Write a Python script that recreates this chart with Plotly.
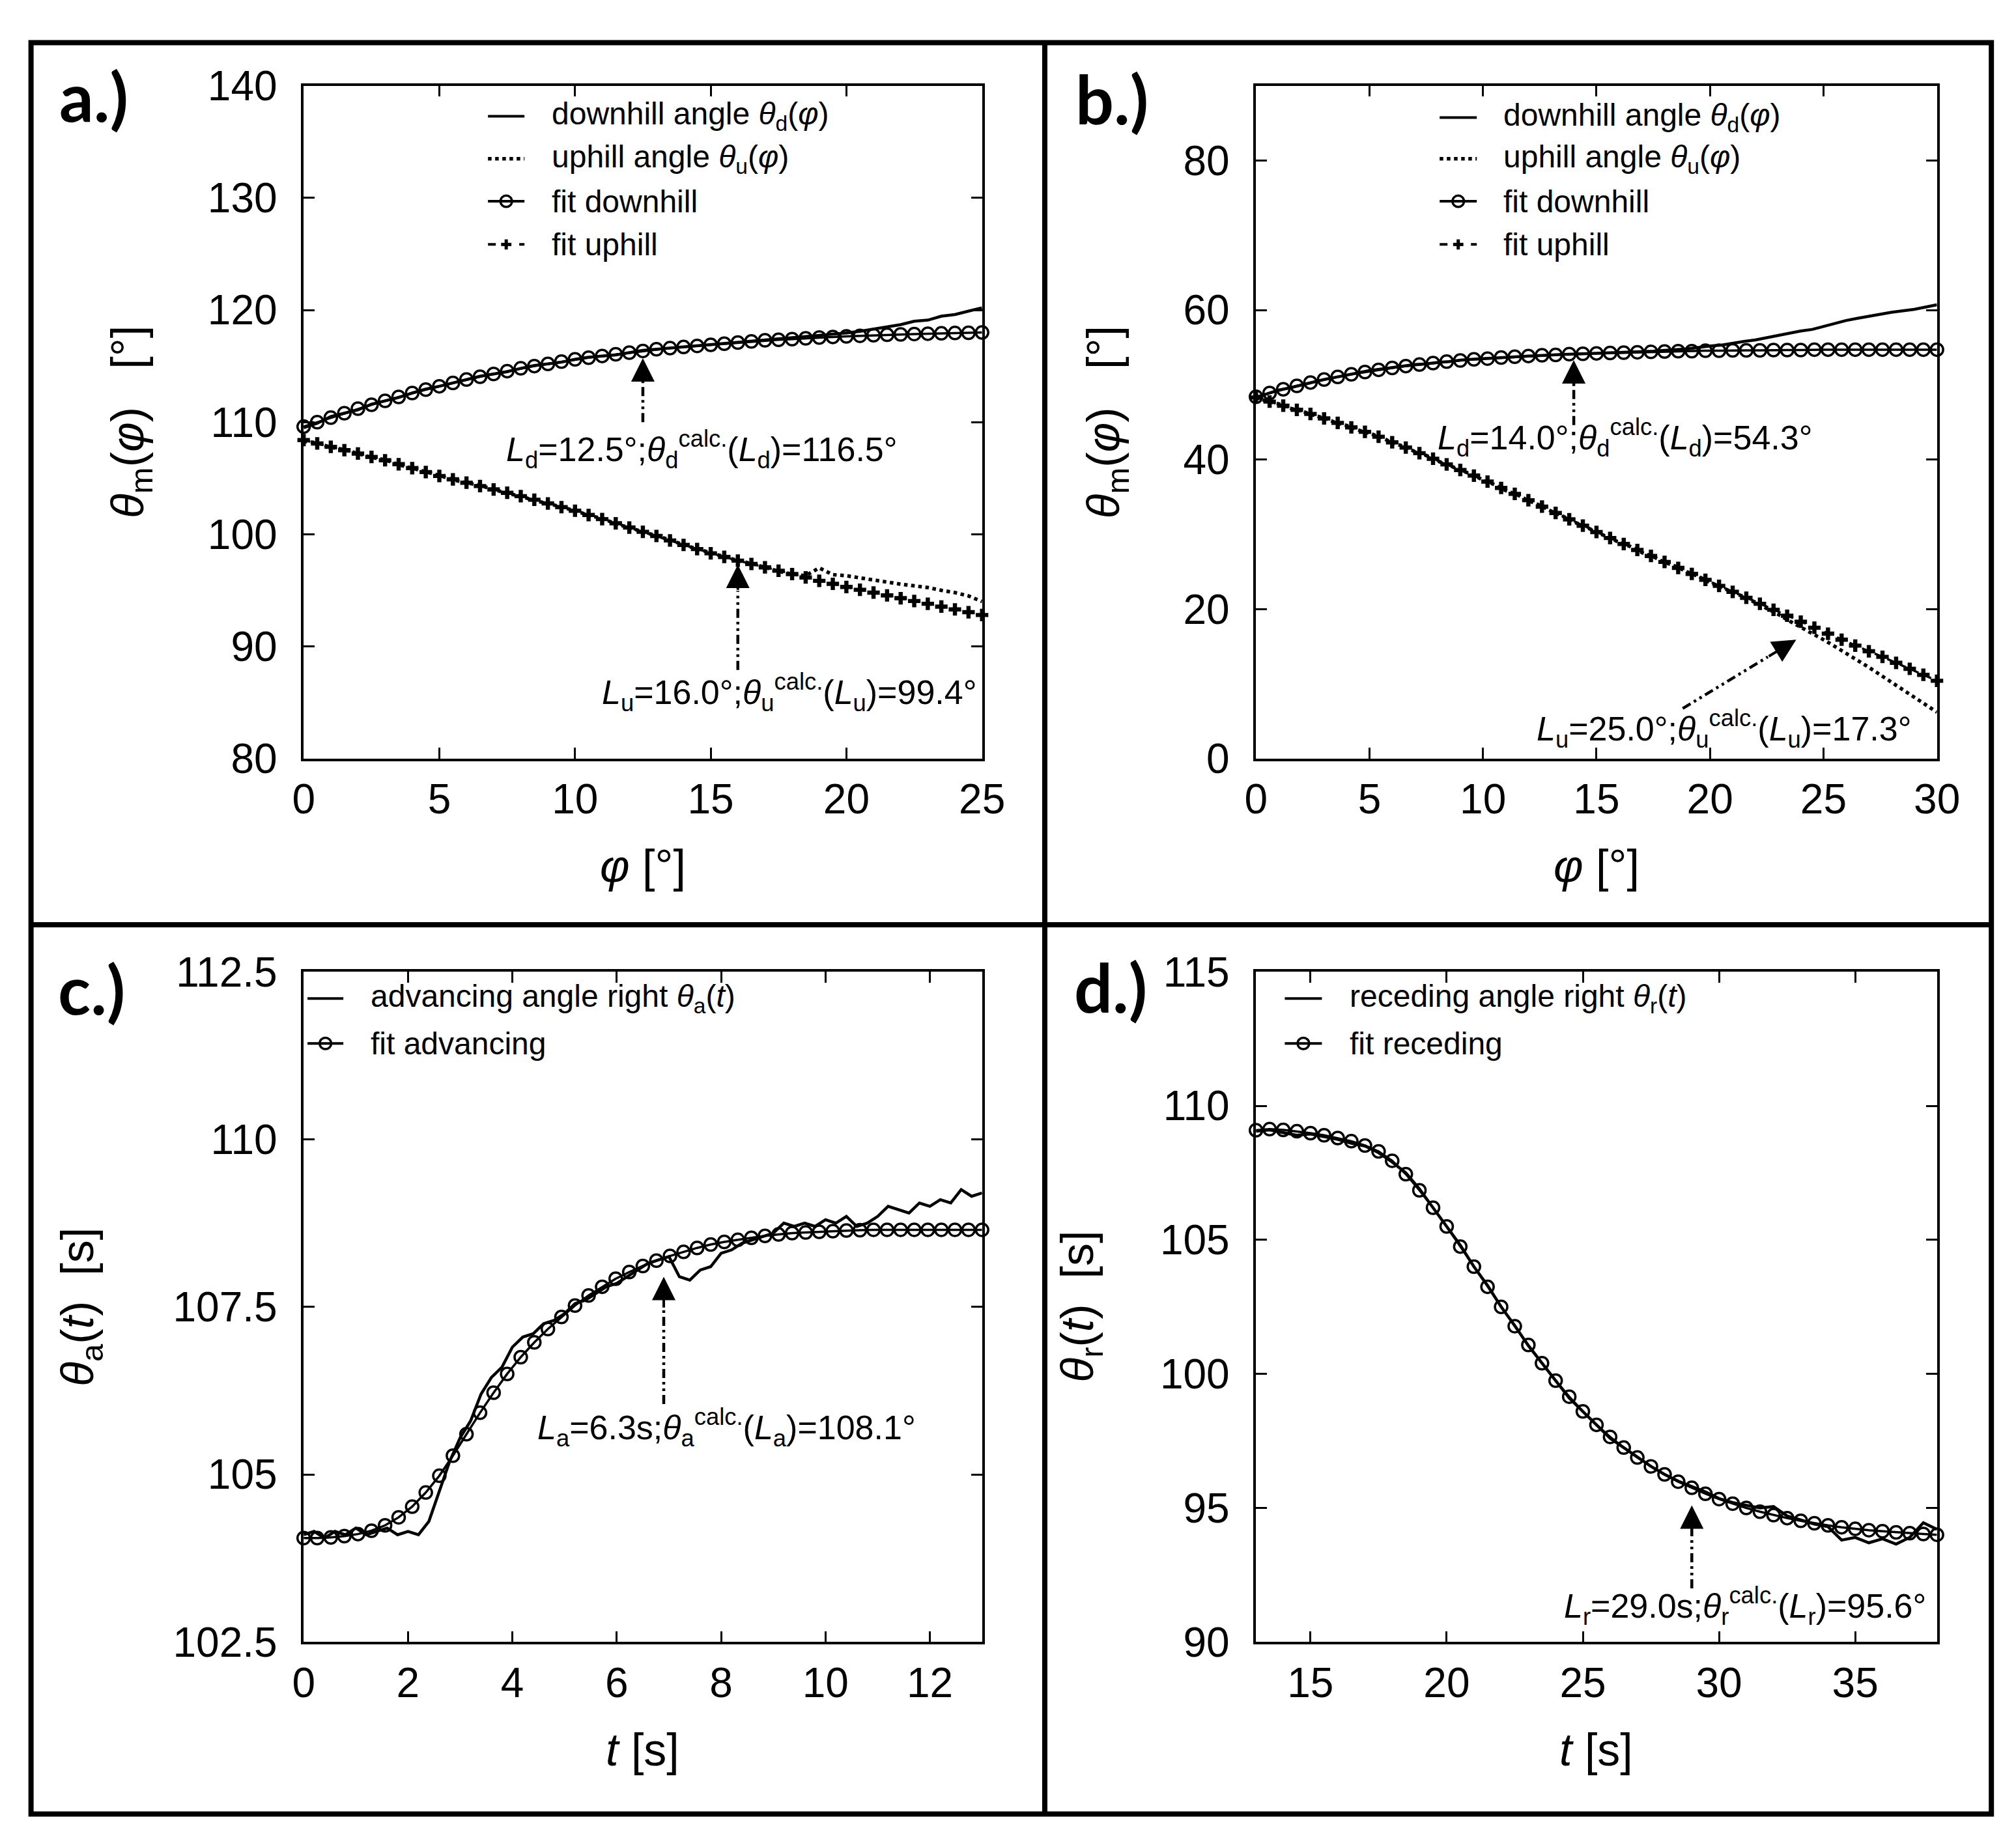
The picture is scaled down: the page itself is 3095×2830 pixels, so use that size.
import plotly.graph_objects as go

W, H = 3095, 2830
FONT = "Liberation Sans, Arial, sans-serif"

# ---------------- panel a ----------------
phi_a = [0.0, 0.5, 1.0, 1.5, 2.0, 2.5, 3.0, 3.5, 4.0, 4.5, 5.0, 5.5, 6.0, 6.5, 7.0, 7.5,
         8.0, 8.5, 9.0, 9.5, 10.0, 10.5, 11.0, 11.5, 12.0, 12.5, 13.0, 13.5, 14.0, 14.5,
         15.0, 15.5, 16.0, 16.5, 17.0, 17.5, 18.0, 18.5, 19.0, 19.5, 20.0, 20.5, 21.0,
         21.5, 22.0, 22.5, 23.0, 23.5, 24.0, 24.5, 25.0]
down_meas_a = [109.5, 109.9, 110.5, 110.8, 111.1, 111.6, 111.9, 112.2, 112.6, 112.95, 113.2,
               113.5, 113.75, 114.1, 114.3, 114.5, 114.8, 115.05, 115.2, 115.35, 115.6, 115.8,
               115.9, 116.0, 116.2, 116.4, 116.5, 116.6, 116.75, 116.8, 116.95, 117.0, 117.1,
               117.25, 117.3, 117.4, 117.5, 117.6, 117.75, 117.8, 117.95, 118.1, 118.3, 118.55,
               118.7, 119.0, 119.1, 119.45, 119.6, 119.9, 120.2]
up_meas_a = [108.3, 108.15, 107.75, 107.55, 107.2, 106.85, 106.65, 106.2, 105.9, 105.6, 105.25,
             104.85, 104.6, 104.35, 104.0, 103.65, 103.4, 103.0, 102.75, 102.45, 102.1, 101.7,
             101.4, 100.95, 100.6, 100.25, 99.85, 99.5, 99.05, 98.7, 98.3, 98.0, 97.65, 97.4,
             97.05, 96.7, 96.45, 96.3, 97.0, 96.4, 96.3, 96.1, 95.9, 95.7, 95.55, 95.4, 95.25,
             95.0, 94.8, 94.5, 94.0]
down_fit_a = [109.6, 110.0, 110.4, 110.8, 111.2, 111.55, 111.9, 112.25, 112.6, 112.9, 113.2,
              113.5, 113.8, 114.05, 114.3, 114.55, 114.8, 115.0, 115.2, 115.4, 115.6, 115.75,
              115.9, 116.05, 116.2, 116.35, 116.5, 116.6, 116.7, 116.8, 116.9, 117.0, 117.1,
              117.2, 117.3, 117.35, 117.4, 117.48, 117.55, 117.6, 117.65, 117.7, 117.75, 117.8,
              117.83, 117.86, 117.89, 117.92, 117.95, 117.97, 118.0]
up_fit_a = [108.4, 108.1, 107.8, 107.5, 107.2, 106.9, 106.6, 106.25, 105.9, 105.55, 105.2,
            104.9, 104.6, 104.3, 104.0, 103.7, 103.4, 103.08, 102.75, 102.42, 102.1, 101.72,
            101.35, 100.98, 100.6, 100.22, 99.85, 99.45, 99.05, 98.68, 98.3, 97.98, 97.65,
            97.35, 97.05, 96.75, 96.45, 96.15, 95.85, 95.58, 95.3, 95.05, 94.8, 94.55, 94.3,
            94.05, 93.8, 93.55, 93.3, 93.05, 92.8]

# ---------------- panel b ----------------
phi_meas_b = [0.0, 0.5, 1.0, 1.5, 2.0, 2.5, 3.0, 3.5, 4.0, 4.5, 5.0, 5.5, 6.0, 6.5, 7.0, 7.5,
              8.0, 8.5, 9.0, 9.5, 10.0, 10.5, 11.0, 11.5, 12.0, 12.5, 13.0, 13.5, 14.0, 14.5,
              15.0, 15.5, 16.0, 16.5, 17.0, 17.5, 18.0, 18.5, 19.0, 19.5, 20.0, 20.5, 21.0,
              21.5, 22.0, 22.5, 23.0, 23.5, 24.0, 24.5, 25.0, 25.5, 26.0, 26.5, 27.0, 27.5,
              28.0, 28.5, 29.0, 29.5, 30.0]
down_meas_b = [48.3, 48.8, 49.3, 49.6, 50.0, 50.4, 50.7, 51.0, 51.3, 51.6, 51.9, 52.1, 52.3,
               52.5, 52.7, 52.8, 53.0, 53.1, 53.3, 53.4, 53.5, 53.6, 53.7, 53.8, 53.85, 53.9,
               54.0, 54.05, 54.1, 54.15, 54.2, 54.3, 54.3, 54.4, 54.4, 54.5, 54.6, 54.7, 54.8,
               55.0, 55.2, 55.3, 55.6, 55.8, 56.0, 56.3, 56.6, 56.9, 57.2, 57.4, 57.8, 58.3,
               58.6, 58.9, 59.2, 59.4, 59.7, 59.9, 60.1, 60.4, 60.7]
up_meas_b = [48.3, 47.8, 47.45, 46.85, 46.5, 45.95, 45.55, 44.95, 44.55, 43.95, 43.5, 43.0,
             42.25, 41.75, 41.05, 40.55, 39.8, 39.25, 38.55, 38.05, 37.25, 36.65, 35.85, 35.3,
             34.5, 33.9, 33.1, 32.45, 31.65, 31.05, 30.25, 29.65, 28.9, 28.35, 27.55, 27.0,
             26.25, 25.7, 24.95, 24.35, 23.55, 22.95, 22.2, 21.65, 20.85, 20.1, 19.3, 18.4,
             17.6, 16.7, 15.9, 15.0, 14.1, 13.2, 12.2, 11.2, 10.2, 9.2, 8.2, 7.2, 6.2]
phi_fit_b = [0.0, 0.6, 1.2, 1.8, 2.4, 3.0, 3.6, 4.2, 4.8, 5.4, 6.0, 6.6, 7.2, 7.8, 8.4, 9.0,
             9.6, 10.2, 10.8, 11.4, 12.0, 12.6, 13.2, 13.8, 14.4, 15.0, 15.6, 16.2, 16.8, 17.4,
             18.0, 18.6, 19.2, 19.8, 20.4, 21.0, 21.6, 22.2, 22.8, 23.4, 24.0, 24.6, 25.2,
             25.8, 26.4, 27.0, 27.6, 28.2, 28.8, 29.4, 30.0]
down_fit_b = [48.4, 48.9, 49.4, 49.85, 50.3, 50.7, 51.05, 51.4, 51.7, 52.0, 52.25, 52.5, 52.7,
              52.9, 53.1, 53.25, 53.4, 53.5, 53.65, 53.75, 53.85, 53.95, 54.0, 54.1, 54.15,
              54.2, 54.25, 54.3, 54.35, 54.4, 54.45, 54.5, 54.5, 54.55, 54.55, 54.6, 54.6,
              54.6, 54.65, 54.65, 54.65, 54.7, 54.7, 54.7, 54.7, 54.7, 54.7, 54.7, 54.7, 54.7,
              54.7]
up_fit_b = [48.3, 47.75, 47.2, 46.65, 46.1, 45.5, 44.9, 44.3, 43.7, 43.05, 42.3, 41.6, 40.85,
            40.1, 39.35, 38.6, 37.85, 37.05, 36.2, 35.4, 34.55, 33.7, 32.85, 32.0, 31.15, 30.3,
            29.5, 28.7, 27.9, 27.1, 26.3, 25.5, 24.7, 23.9, 23.1, 22.3, 21.5, 20.7, 19.9, 19.1,
            18.3, 17.5, 16.7, 15.9, 15.1, 14.35, 13.6, 12.8, 12.0, 11.2, 10.4]

# ---------------- panel c ----------------
t_meas_c = [0.0, 0.2, 0.4, 0.6, 0.8, 1.0, 1.2, 1.4, 1.6, 1.8, 2.0, 2.2, 2.4, 2.6, 2.8, 3.0,
            3.2, 3.4, 3.6, 3.8, 4.0, 4.2, 4.4, 4.6, 4.8, 5.0, 5.2, 5.4, 5.6, 5.8, 6.0, 6.2,
            6.4, 6.6, 6.8, 7.0, 7.2, 7.4, 7.6, 7.8, 8.0, 8.2, 8.4, 8.6, 8.8, 9.0, 9.2, 9.4,
            9.6, 9.8, 10.0, 10.2, 10.4, 10.6, 10.8, 11.0, 11.2, 11.4, 11.6, 11.8, 12.0, 12.2,
            12.4, 12.6, 12.8, 13.0]
adv_meas_c = [104.1, 104.15, 104.05, 104.15, 104.1, 104.2, 104.1, 104.15, 104.2, 104.1, 104.15,
              104.1, 104.3, 104.75, 105.2, 105.55, 105.8, 106.2, 106.45, 106.6, 106.9, 107.05,
              107.1, 107.25, 107.3, 107.4, 107.55, 107.6, 107.7, 107.8, 107.85, 107.95, 108.05,
              108.15, 108.2, 108.25, 107.95, 107.9, 108.05, 108.1, 108.3, 108.35, 108.45, 108.5,
              108.55, 108.6, 108.75, 108.7, 108.75, 108.7, 108.8, 108.75, 108.85, 108.7, 108.75,
              108.85, 109.0, 108.95, 108.9, 109.05, 109.0, 109.1, 109.05, 109.25, 109.15, 109.2]
t_fit_c = [0.0, 0.26, 0.52, 0.78, 1.04, 1.3, 1.56, 1.82, 2.08, 2.34, 2.6, 2.86, 3.12, 3.38,
           3.64, 3.9, 4.16, 4.42, 4.68, 4.94, 5.2, 5.46, 5.72, 5.98, 6.24, 6.5, 6.76, 7.02,
           7.28, 7.54, 7.8, 8.06, 8.32, 8.58, 8.84, 9.1, 9.36, 9.62, 9.88, 10.14, 10.4, 10.66,
           10.92, 11.18, 11.44, 11.7, 11.96, 12.22, 12.48, 12.74, 13.0]
adv_fit_c = [104.05, 104.05, 104.06, 104.08, 104.11, 104.16, 104.24, 104.36, 104.52, 104.73,
             104.98, 105.28, 105.6, 105.92, 106.22, 106.5, 106.75, 106.97, 107.17, 107.35,
             107.52, 107.67, 107.8, 107.92, 108.02, 108.11, 108.19, 108.26, 108.32, 108.38,
             108.43, 108.47, 108.5, 108.53, 108.56, 108.58, 108.6, 108.61, 108.62, 108.63,
             108.64, 108.645, 108.65, 108.65, 108.65, 108.65, 108.65, 108.65, 108.65, 108.65,
             108.65]

# ---------------- panel d ----------------
t_d = [13.0, 13.5, 14.0, 14.5, 15.0, 15.5, 16.0, 16.5, 17.0, 17.5, 18.0, 18.5, 19.0, 19.5,
       20.0, 20.5, 21.0, 21.5, 22.0, 22.5, 23.0, 23.5, 24.0, 24.5, 25.0, 25.5, 26.0, 26.5,
       27.0, 27.5, 28.0, 28.5, 29.0, 29.5, 30.0, 30.5, 31.0, 31.5, 32.0, 32.5, 33.0, 33.5,
       34.0, 34.5, 35.0, 35.5, 36.0, 36.5, 37.0, 37.5, 38.0]
rec_meas_d = [109.05, 109.1, 109.0, 108.9, 108.95, 108.85, 108.75, 108.6, 108.5, 108.25,
              107.9, 107.5, 106.9, 106.2, 105.5, 104.8, 104.0, 103.3, 102.5, 101.8, 101.05,
              100.4, 99.75, 99.1, 98.6, 98.1, 97.6, 97.25, 96.9, 96.55, 96.25, 96.0, 95.8,
              95.6, 95.35, 95.2, 95.1, 95.0, 95.05, 94.7, 94.55, 94.4, 94.3, 93.8, 93.9, 93.7,
              93.85, 93.65, 93.9, 94.45, 94.2]
rec_fit_d = [109.09, 109.13, 109.1, 109.05, 108.98, 108.9, 108.8, 108.68, 108.52, 108.3,
             107.95, 107.45, 106.85, 106.2, 105.5, 104.75, 104.0, 103.25, 102.5, 101.78,
             101.08, 100.4, 99.75, 99.15, 98.6, 98.1, 97.65, 97.25, 96.88, 96.55, 96.25, 95.98,
             95.75, 95.53, 95.33, 95.16, 95.0, 94.86, 94.73, 94.62, 94.52, 94.43, 94.35, 94.28,
             94.22, 94.17, 94.13, 94.09, 94.06, 94.03, 94.0]

# arrow annotations: (panel, tip x, tip y, tail x, tail y, text x, text y, text)
arrows = [
    ("a", 12.5, 115.7, 12.5, 110.0, 14.67, 107.6,
     "<i>L</i><sub>d</sub>=12.5°;<i>θ</i><sub>d</sub><sup>calc.</sup>(<i>L</i><sub>d</sub>)=116.5°"),
    ("a", 16.0, 97.3, 16.0, 87.9, 17.9, 85.9,
     "<i>L</i><sub>u</sub>=16.0°;<i>θ</i><sub>u</sub><sup>calc.</sup>(<i>L</i><sub>u</sub>)=99.4°"),
    ("b", 14.0, 53.3, 14.0, 44.6, 16.25, 42.9,
     "<i>L</i><sub>d</sub>=14.0°;<i>θ</i><sub>d</sub><sup>calc.</sup>(<i>L</i><sub>d</sub>)=54.3°"),
    ("b", 23.8, 15.9, 18.8, 6.7, 20.6, 4.0,
     "<i>L</i><sub>u</sub>=25.0°;<i>θ</i><sub>u</sub><sup>calc.</sup>(<i>L</i><sub>u</sub>)=17.3°"),
    ("c", 6.9, 107.95, 6.9, 106.05, 8.1, 105.7,
     "<i>L</i><sub>a</sub>=6.3s;<i>θ</i><sub>a</sub><sup>calc.</sup>(<i>L</i><sub>a</sub>)=108.1°"),
    ("d", 29.0, 95.1, 29.0, 92.0, 30.95, 91.35,
     "<i>L</i><sub>r</sub>=29.0s;<i>θ</i><sub>r</sub><sup>calc.</sup>(<i>L</i><sub>r</sub>)=95.6°"),
]

# legend entries per panel: (label, style)
th_d = "downhill angle <i>θ</i><sub>d</sub>(<i>φ</i>)"
th_u = "uphill angle <i>θ</i><sub>u</sub>(<i>φ</i>)"
legend_rows = {
    "a": [(th_d, "solid"), (th_u, "dot"), ("fit downhill", "circle"), ("fit uphill", "cross")],
    "b": [(th_d, "solid"), (th_u, "dot"), ("fit downhill", "circle"), ("fit uphill", "cross")],
    "c": [("advancing angle right <i>θ</i><sub>a</sub>(<i>t</i>)", "solid"),
          ("fit advancing", "circle")],
    "d": [("receding angle right <i>θ</i><sub>r</sub>(<i>t</i>)", "solid"),
          ("fit receding", "circle")],
}

# pixel boxes of the four plot areas (left, right, top, bottom)
boxes = {"a": (448, 1508, 90, 1150), "b": (1936, 3000, 90, 1150),
         "c": (448, 1508, 1486, 2542), "d": (1936, 3000, 1486, 2542)}
axis_ids = {"a": ("x", "y"), "b": ("x2", "y2"), "c": ("x3", "y3"), "d": ("x4", "y4")}

fig = go.Figure()


def measured(panel, x, y, dash="solid"):
    xa, ya = axis_ids[panel]
    fig.add_trace(go.Scatter(
        x=x, y=y, mode="lines", xaxis=xa, yaxis=ya, showlegend=False,
        line=dict(color="black", width=5.5 if dash == "dot" else 4.5, dash=dash)))


def fit(panel, x, y, symbol="circle-open", dash="solid"):
    xa, ya = axis_ids[panel]
    if symbol == "circle-open":
        marker = dict(symbol=symbol, size=19, color="black", line=dict(width=3.5, color="black"))
    else:
        marker = dict(symbol=symbol, size=16, color="black", line=dict(width=0))
    fig.add_trace(go.Scatter(
        x=x, y=y, mode="lines+markers", xaxis=xa, yaxis=ya, showlegend=False,
        line=dict(color="black", width=3.5, dash=dash), marker=marker, cliponaxis=False))


measured("a", phi_a, down_meas_a)
measured("a", phi_a, up_meas_a, dash="dot")
fit("a", phi_a, down_fit_a)
fit("a", phi_a, up_fit_a, symbol="cross", dash="dash")

measured("b", phi_meas_b, down_meas_b)
measured("b", phi_meas_b, up_meas_b, dash="dot")
fit("b", phi_fit_b, down_fit_b)
fit("b", phi_fit_b, up_fit_b, symbol="cross", dash="dash")

measured("c", t_meas_c, adv_meas_c)
fit("c", t_fit_c, adv_fit_c)

measured("d", t_d, rec_meas_d)
fit("d", t_d, rec_fit_d)

# axes
ranges = {"a": ([0, 25], 5, [80, 140], 10), "b": ([0, 30], 5, [0, 90], 20),
          "c": ([0, 13], 2, [102.5, 112.5], 2.5), "d": ([13, 38], 5, [90, 115], 5)}
common = dict(showgrid=False, zeroline=False, showline=True, linecolor="black", linewidth=3.5,
              mirror="ticks", ticks="inside", ticklen=17, tickwidth=3, tickcolor="black",
              tickfont=dict(family=FONT, size=64, color="black"), tick0=0)
layout_axes = {}
for p, (l, r, t, b) in boxes.items():
    xa, ya = axis_ids[p]
    xr, dx, yr, dy = ranges[p]
    xkey = "xaxis" if xa == "x" else "xaxis" + xa[1:]
    ykey = "yaxis" if ya == "y" else "yaxis" + ya[1:]
    layout_axes[xkey] = dict(common, domain=[l / W, r / W], range=xr, dtick=dx,
                             anchor=ya, ticklabelstandoff=4)
    layout_axes[ykey] = dict(common, domain=[1 - b / H, 1 - t / H], range=yr, dtick=dy,
                             anchor=xa, ticklabelstandoff=24)

annotations = []
shapes = []
title_font = dict(family=FONT, size=70, color="black")


def px(x):
    return x / W


def py(y):
    return 1 - y / H


# hand-drawn keys (sample line, marker, text) like the gnuplot keys
legend_geo = {"a": (736, 793, 834, [138, 205, 272, 340]),
              "b": (2223, 2281, 2320, [140, 205, 272, 340]),
              "c": (454, 510, 551, [1528, 1599]),
              "d": (1981, 2039, 2080, [1528, 1599])}
for p, rows in legend_rows.items():
    x0, x1, xt, ys = legend_geo[p]
    for (label, style), yy in zip(rows, ys):
        dash = {"solid": "solid", "dot": "dot", "circle": "solid", "cross": "dash"}[style]
        shapes.append(dict(type="line", xref="paper", yref="paper", x0=px(x0), x1=px(x1),
                           y0=py(yy), y1=py(yy),
                           line=dict(color="black", width=5.5 if style == "dot" else 4,
                                     dash=dash)))
        cx = (x0 + x1) / 2
        if style == "circle":
            shapes.append(dict(type="circle", xref="paper", yref="paper",
                               x0=px(cx - 9), x1=px(cx + 9), y0=py(yy + 9), y1=py(yy - 9),
                               line=dict(color="black", width=3.5)))
        elif style == "cross":
            shapes.append(dict(type="line", xref="paper", yref="paper", x0=px(cx - 8),
                               x1=px(cx + 8), y0=py(yy), y1=py(yy),
                               line=dict(color="black", width=5)))
            shapes.append(dict(type="line", xref="paper", yref="paper", x0=px(cx), x1=px(cx),
                               y0=py(yy - 8), y1=py(yy + 8),
                               line=dict(color="black", width=5)))
        annotations.append(dict(x=px(xt), y=py(yy), xref="paper", yref="paper", text=label,
                                showarrow=False, xanchor="left", yanchor="middle",
                                font=dict(family=FONT, size=48, color="black")))

# panel letters
for p, (lx, ly) in {"a": (120, 105), "b": (1711, 109), "c": (117, 1512),
                    "d": (1709, 1509)}.items():
    annotations.append(dict(x=px(lx), y=py(ly), xref="paper", yref="paper",
                            text="<b>%s.)</b>" % p, showarrow=False,
                            font=dict(family="Lato", size=104, color="black"),
                            xanchor="center", yanchor="middle"))

# axis titles
gap3 = "\u00a0\u00a0\u00a0"
gap2 = "\u00a0\u00a0"
ytitles = {"a": "<i>θ</i><sub>m</sub>(<i>φ</i>)" + gap3 + "[°]",
           "b": "<i>θ</i><sub>m</sub>(<i>φ</i>)" + gap3 + "[°]",
           "c": "<i>θ</i><sub>a</sub>(<i>t</i>)" + gap2 + "[s]",
           "d": "<i>θ</i><sub>r</sub>(<i>t</i>)" + gap2 + "[s]"}
xtitles = {"a": "<i>φ</i> [°]", "b": "<i>φ</i> [°]", "c": "<i>t</i> [s]", "d": "<i>t</i> [s]"}
ytitle_x = {"a": 178, "b": 1703, "c": 100, "d": 1662}
for p, (l, r, t, b) in boxes.items():
    annotations.append(dict(x=px(ytitle_x[p]), y=py((t + b) / 2), xref="paper", yref="paper",
                            text=ytitles[p], showarrow=False, textangle=-90, font=title_font,
                            xanchor="center", yanchor="middle"))
    annotations.append(dict(x=px((l + r) / 2), y=py(b + 170), xref="paper", yref="paper",
                            text=xtitles[p], showarrow=False, font=title_font,
                            xanchor="center", yanchor="middle"))

# arrows with dash-dot-dot shafts
for p, tx, ty, sx, sy, lx, ly, txt in arrows:
    xa, ya = axis_ids[p]
    hx = tx - (tx - sx) * 0.25
    hy = ty - (ty - sy) * 0.25
    shapes.append(dict(type="line", xref=xa, yref=ya, x0=sx, y0=sy, x1=hx, y1=hy,
                       line=dict(color="black", width=4.5, dash="14px,6px,4px,6px,4px,6px")))
    annotations.append(dict(x=tx, y=ty, ax=hx, ay=hy, xref=xa, yref=ya, axref=xa, ayref=ya,
                            text="", showarrow=True, arrowhead=2, arrowsize=1.8,
                            arrowwidth=4, arrowcolor="black"))
    annotations.append(dict(x=lx, y=ly, xref=xa, yref=ya, text=txt, showarrow=False,
                            font=dict(family=FONT, size=52, color="black"),
                            xanchor="center", yanchor="middle"))

# frame around the four panels
shapes.append(dict(type="rect", xref="paper", yref="paper", x0=px(22), x1=px(3085),
                   y0=py(2813), y1=py(22), line=dict(color="black", width=8)))
shapes.append(dict(type="line", xref="paper", yref="paper", x0=px(1606), x1=px(1606),
                   y0=py(2813), y1=py(22), line=dict(color="black", width=8)))
shapes.append(dict(type="line", xref="paper", yref="paper", x0=px(22), x1=px(3085),
                   y0=py(1412), y1=py(1412), line=dict(color="black", width=8)))

fig.update_layout(
    width=W, height=H, margin=dict(l=0, r=0, t=0, b=0),
    plot_bgcolor="white", paper_bgcolor="white", showlegend=False,
    annotations=annotations, shapes=shapes, **layout_axes)

fig.write_html("out.html")
